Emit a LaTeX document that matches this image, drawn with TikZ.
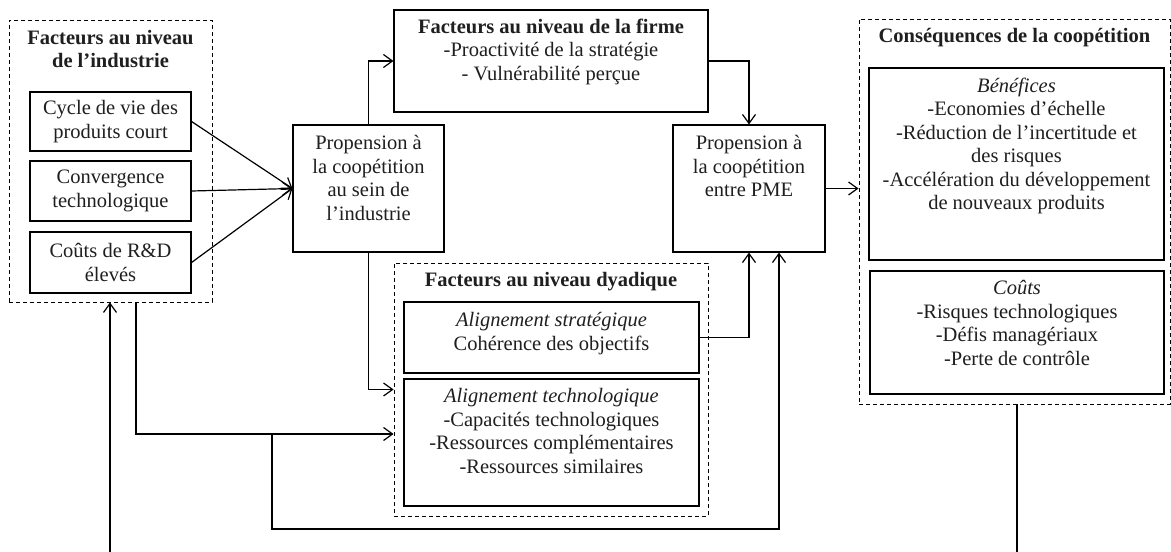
\documentclass[tikz,border=0pt]{standalone}
\usepackage{fontspec}
\setmainfont{Liberation Serif}
\usetikzlibrary{arrows.meta}
\begin{document}
\begin{tikzpicture}[x=1pt,y=-1pt,
  box/.style={draw, line width=1.1pt, inner sep=0pt},
  dbox/.style={draw, dash pattern=on 4pt off 3pt, line width=0.9pt, inner sep=0pt},
  txt/.style={align=center, inner sep=0pt, font=\fontsize{20.5}{23.5}\selectfont, text=black!88},
  arr/.style={line width=1.2pt, -{Straight Barb[length=9pt,width=13pt,line width=1.2pt]}},
  ln/.style={line width=1.2pt}]
\useasboundingbox[fill=white] (0,0) rectangle (1171,552);

% industry level
\node[dbox, minimum width=203pt, minimum height=282pt] (indbox) at (110.5,161) {};
\node[txt, anchor=north] (indtitle) at (110.5,30) {\bfseries Facteurs au niveau\\\bfseries de l’industrie};
\node[box, txt, minimum width=161pt, minimum height=59pt] (cycle) at (110.5,121.5) {Cycle de vie des\\produits court};
\node[box, txt, minimum width=161pt, minimum height=60pt] (conv) at (110.5,191) {Convergence\\technologique};
\node[box, txt, minimum width=161pt, minimum height=61pt] (rd) at (110.5,262.5) {Coûts de R\&D\\élevés};

% propension industrie
\node[box, minimum width=151pt, minimum height=127pt] (propind) at (368.5,188.5) {};
\node[txt, anchor=north] (propindt) at (368.5,135.5) {Propension à\\la coopétition\\au sein de\\l’industrie};

% firme
\node[box, minimum width=314pt, minimum height=102pt] (firme) at (551,61) {};
\node[txt, anchor=north] (firmet) at (551,18.5) {\bfseries Facteurs au niveau de la firme\\-Proactivité de la stratégie\\- Vulnérabilité perçue};

% PME
\node[box, minimum width=152pt, minimum height=127pt] (pme) at (749,188.5) {};
\node[txt, anchor=north] (pmet) at (749,135.5) {Propension à\\la coopétition\\entre PME};

% dyadic
\node[dbox, minimum width=314pt, minimum height=253pt] (dyad) at (551,389.5) {};
\node[txt, anchor=north] (dyadt) at (551,272.5) {\bfseries Facteurs au niveau dyadique};
\node[box, minimum width=295pt, minimum height=71pt] (strat) at (551.5,337.5) {};
\node[txt, anchor=north] (stratt) at (551.5,312.5) {\itshape Alignement stratégique\\Cohérence des objectifs};
\node[box, minimum width=295pt, minimum height=127pt] (tech) at (551.5,442.5) {};
\node[txt, anchor=north] (techt) at (551.5,388.5) {\itshape Alignement technologique\\-Capacités technologiques\\-Ressources complémentaires\\-Ressources similaires};

% consequences
\node[dbox, minimum width=311pt, minimum height=385pt] (conseq) at (1014.5,211.5) {};
\node[txt, anchor=north] (conseqt) at (1014.5,28.5) {\bfseries Conséquences de la coopétition};
\node[box, minimum width=295pt, minimum height=192pt] (benef) at (1016.5,164) {};
\node[txt, anchor=north] (beneft) at (1016.5,77.5) {\itshape Bénéfices\\-Economies d’échelle\\-Réduction de l’incertitude et\\des risques\\-Accélération du développement\\de nouveaux produits};
\node[box, minimum width=294pt, minimum height=123pt] (couts) at (1017,332.5) {};
\node[txt, anchor=north] (coutst) at (1017,280.5) {\itshape Coûts\\-Risques technologiques\\-Défis managériaux\\-Perte de contrôle};

% connectors
\draw[arr] (cycle.east) -- (propind.west);
\draw[arr] (conv.east) -- (propind.west);
\draw[arr] (rd.east) -- (propind.west);
\draw[arr] (propind.north) |- (firme.west);
\draw[arr] (propind.south) |- (dyad.west);
\draw[arr] (firme.east) -| (pme.north);
\draw[arr] (strat.east) -| (pme.south);
\coordinate (jn) at (272,434);
\draw[arr] ([xshift=25.5pt]indbox.south) |- (dyad.west |- jn);
\draw[arr] (jn) -- (272,529) -| ([xshift=30pt]pme.south);
\draw[arr] (pme.east) -- (conseq.west |- pme.east);
\coordinate (outc) at (1017,552);
\draw[ln] (outc |- conseq.south) -- (outc);
\coordinate (inc) at (110,552);
\draw[arr] (inc) -- (inc |- indbox.south);
\end{tikzpicture}
\end{document}
